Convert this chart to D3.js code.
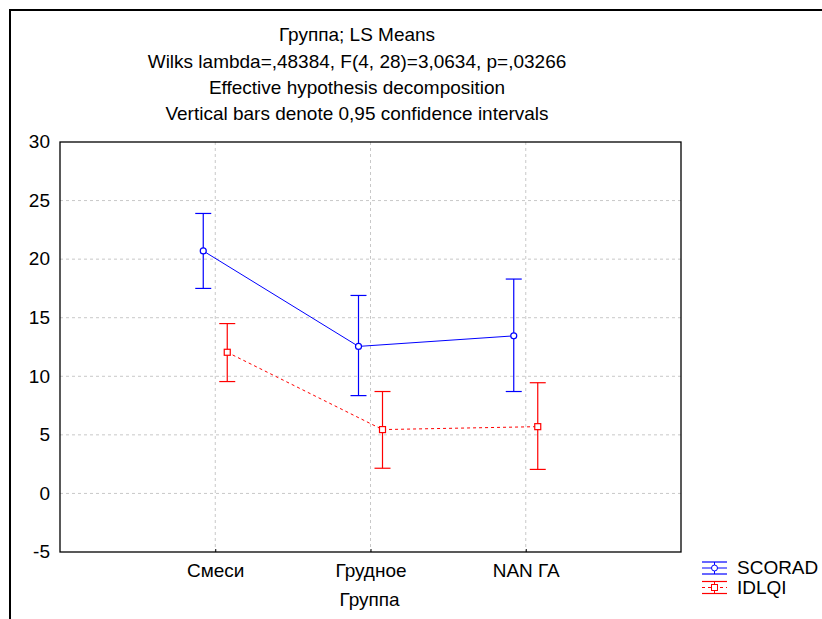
<!DOCTYPE html>
<html>
<head>
<meta charset="utf-8">
<script src="https://cdn.jsdelivr.net/npm/d3@7"></script>
<style>
  body { margin: 0; background: #fff; }
  text { font-family: "Liberation Sans", Arial, sans-serif; fill: #000; }
</style>
</head>
<body>
<div id="chart"></div>
<script>
const groups = ['Смеси', 'Грудное', 'NAN ГА'];
const yTicks = [-5, 0, 5, 10, 15, 20, 25, 30];
const titleLines = [
  'Группа; LS Means',
  'Wilks lambda=,48384, F(4, 28)=3,0634, p=,03266',
  'Effective hypothesis decomposition',
  'Vertical bars denote 0,95 confidence intervals'
];
const scoradMean = [20.7, 12.55, 13.45];
const scoradLow = [17.5, 8.35, 8.7];
const scoradHigh = [23.9, 16.9, 18.3];
const idlqiMean = [12.05, 5.45, 5.7];
const idlqiLow = [9.55, 2.15, 2.05];
const idlqiHigh = [14.5, 8.7, 9.45];

const series = [
  { name: 'SCORAD', mean: scoradMean, low: scoradLow, high: scoradHigh, color: '#0000ff', dash: null, shape: 'circle', dx: -12 },
  { name: 'IDLQI', mean: idlqiMean, low: idlqiLow, high: idlqiHigh, color: '#ff0000', dash: '3,3', shape: 'square', dx: 12 }
];

const width = 822, height = 619;
const plot = { left: 60, top: 142, right: 681, bottom: 552 };
const fs = 18, sx = 1.055; // reference text is a bit wide

const svg = d3.select('#chart').append('svg').attr('width', width).attr('height', height);

// place a horizontally stretched label
function label(parent, tx, ty, str, anchor) {
  return parent.append('text')
    .attr('transform', `translate(${tx},${ty}) scale(${sx},1)`)
    .attr('text-anchor', anchor || 'middle').attr('dominant-baseline', 'central')
    .attr('font-size', fs).text(str);
}

// outer frame (right/bottom run off the picture)
svg.append('rect').attr('x', 10).attr('y', 10).attr('width', 900).attr('height', 700)
  .attr('fill', 'none').attr('stroke', '#000').attr('stroke-width', 2);

const x = d3.scaleLinear().domain([0, groups.length + 1]).range([plot.left, plot.right]);
const y = d3.scaleLinear().domain([-5, 30]).range([plot.bottom, plot.top]);

// title
titleLines.forEach((t, i) => label(svg, 357, 35 + i * 26.3, t));

// grid
const grid = svg.append('g');
grid.selectAll('.hg').data(yTicks.filter(t => t > -5 && t < 30)).enter().append('line')
  .attr('x1', plot.left).attr('x2', plot.right).attr('y1', d => y(d)).attr('y2', d => y(d))
  .attr('stroke', '#c8c8c8').attr('stroke-dasharray', '3,3');
grid.selectAll('.vg').data(groups).enter().append('line')
  .attr('x1', (d, i) => x(i + 1)).attr('x2', (d, i) => x(i + 1))
  .attr('y1', plot.top).attr('y2', plot.bottom)
  .attr('stroke', '#c8c8c8').attr('stroke-dasharray', '3,3');

// axes
const yAxis = svg.append('g').attr('transform', `translate(${plot.left},0)`)
  .call(d3.axisLeft(y).tickValues(yTicks).tickFormat(d => String(d)).tickSize(0).tickPadding(10));
yAxis.select('.domain').remove();
yAxis.selectAll('text').attr('font-size', fs).attr('font-family', '"Liberation Sans", Arial, sans-serif')
  .attr('transform', `scale(${sx},1)`).attr('x', -9.5);

const xAxis = svg.append('g').attr('transform', `translate(0,${plot.bottom})`)
  .call(d3.axisBottom(x).tickValues([1, 2, 3]).tickFormat(d => groups[d - 1]).tickSizeInner(-3).tickSizeOuter(0).tickPadding(12));
xAxis.select('.domain').remove();
xAxis.selectAll('line').attr('stroke', '#000');
xAxis.selectAll('text').attr('font-size', fs).attr('font-family', '"Liberation Sans", Arial, sans-serif')
  .attr('transform', `scale(${sx},1)`);

svg.append('rect').attr('x', plot.left).attr('y', plot.top)
  .attr('width', plot.right - plot.left).attr('height', plot.bottom - plot.top)
  .attr('fill', 'none').attr('stroke', '#000').attr('stroke-width', 1.3);

label(svg, (plot.left + plot.right) / 2 - 1, 600, 'Группа');

// series
const cap = 8;
series.forEach(s => {
  const g = svg.append('g');
  const px = i => x(i + 1) + s.dx;
  const line = d3.line().x((d, i) => px(i)).y(d => y(d));
  g.append('path').attr('d', line(s.mean)).attr('fill', 'none')
    .attr('stroke', s.color).attr('stroke-width', 1).attr('stroke-dasharray', s.dash);
  s.mean.forEach((m, i) => {
    const cx = px(i);
    g.append('line').attr('x1', cx).attr('x2', cx).attr('y1', y(s.low[i])).attr('y2', y(s.high[i]))
      .attr('stroke', s.color).attr('stroke-width', 1.2);
    [s.low[i], s.high[i]].forEach(v => {
      g.append('line').attr('x1', cx - cap).attr('x2', cx + cap).attr('y1', y(v)).attr('y2', y(v))
        .attr('stroke', s.color).attr('stroke-width', 1.2);
    });
    if (s.shape === 'circle') {
      g.append('circle').attr('cx', cx).attr('cy', y(m)).attr('r', 3)
        .attr('fill', '#fff').attr('stroke', s.color).attr('stroke-width', 1.2);
    } else {
      g.append('rect').attr('x', cx - 3).attr('y', y(m) - 3).attr('width', 6).attr('height', 6)
        .attr('fill', '#fff').attr('stroke', s.color).attr('stroke-width', 1.2);
    }
  });
});

// legend
const legend = svg.append('g');
series.forEach((s, k) => {
  const cy = 568 + k * 19.5;
  const lx0 = 702, lx1 = 727, lc = (lx0 + lx1) / 2;
  const g = legend.append('g');
  [cy - 6, cy + 6].forEach(yy => g.append('line').attr('x1', lx0).attr('x2', lx1).attr('y1', yy).attr('y2', yy)
    .attr('stroke', s.color).attr('stroke-width', 1.2));
  g.append('line').attr('x1', lx0).attr('x2', lx1).attr('y1', cy).attr('y2', cy)
    .attr('stroke', s.color).attr('stroke-dasharray', s.dash);
  g.append('line').attr('x1', lc).attr('x2', lc).attr('y1', cy - 6).attr('y2', cy + 6).attr('stroke', s.color);
  if (s.shape === 'circle') {
    g.append('circle').attr('cx', lc).attr('cy', cy).attr('r', 3)
      .attr('fill', '#fff').attr('stroke', s.color);
  } else {
    g.append('rect').attr('x', lc - 3).attr('y', cy - 3).attr('width', 6).attr('height', 6)
      .attr('fill', '#fff').attr('stroke', s.color);
  }
  label(g, 737, cy, s.name, 'start');
});
</script>
</body>
</html>
